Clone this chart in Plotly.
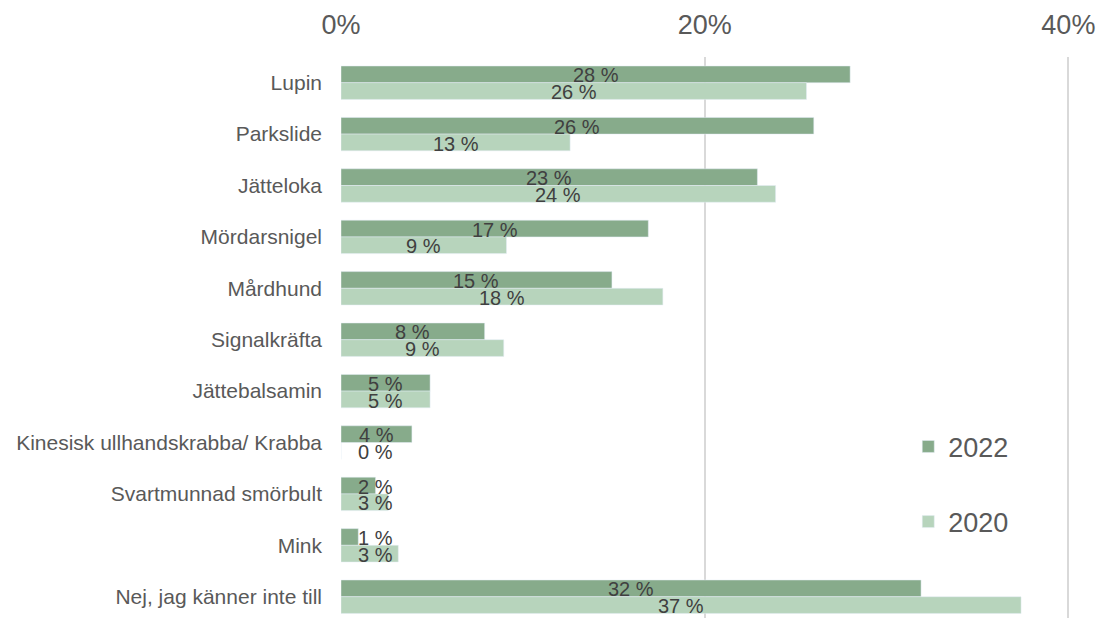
import plotly.graph_objects as go

categories = ['Lupin', 'Parkslide', 'Jätteloka', 'Mördarsnigel', 'Mårdhund', 'Signalkräfta',
              'Jättebalsamin', 'Kinesisk ullhandskrabba/ Krabba', 'Svartmunnad smörbult',
              'Mink', 'Nej, jag känner inte till']
values_2022 = [28.0, 26.0, 22.9, 16.9, 14.9, 7.9, 4.9, 3.9, 1.9, 0.95, 31.9]
values_2020 = [25.6, 12.6, 23.9, 9.1, 17.7, 8.95, 4.9, 0.0, 2.6, 3.15, 37.4]
tick_values = [0, 20, 40]
tick_labels = ['0%', '20%', '40%']

dark_green = '#87ab8b'
light_green = '#b7d4bc'
font_family = 'Liberation Sans, Arial, sans-serif'

fig = go.Figure()
fig.add_trace(go.Bar(
    y=categories, x=values_2022, name='2022', orientation='h',
    marker=dict(color=dark_green), legend='legend', showlegend=True
))
fig.add_trace(go.Bar(
    y=categories, x=values_2020, name='2020', orientation='h',
    marker=dict(color=light_green), legend='legend2', showlegend=True
))

# value labels, centred on each bar but kept clear of the axis for tiny bars
annotations = []
for series, shift in [(values_2022, 8.4), (values_2020, -8.4)]:
    for cat, v in zip(categories, series):
        annotations.append(dict(
            x=max(v / 2, 1.87), y=cat, xref='x', yref='y',
            text=f'{v:.0f} %', showarrow=False, yshift=shift - 1,
            font=dict(size=20, color='#404040', family=font_family)
        ))

fig.update_layout(
    width=1097, height=618,
    margin=dict(l=341, r=25, t=57, b=0),
    barmode='group', bargap=0.35, bargroupgap=0,
    plot_bgcolor='white', paper_bgcolor='white',
    font=dict(family=font_family, color='#595959'),
    annotations=annotations,
    showlegend=True,
    xaxis=dict(
        side='top', range=[0, 40.2], tickvals=tick_values, ticktext=tick_labels,
        showgrid=True, gridcolor='#d9d9d9', gridwidth=2,
        zeroline=False, showline=False, ticks='',
        ticklabelstandoff=17, ticklabeloverflow='allow',
        tickfont=dict(size=27, color='#595959')
    ),
    yaxis=dict(
        type='category', range=[10.414, -0.5],
        showgrid=False, zeroline=False, showline=False, ticks='',
        ticklabelstandoff=18,
        tickfont=dict(size=21, color='#595959')
    ),
    legend=dict(
        x=0.776, y=0.305, xanchor='left', yanchor='middle',
        font=dict(size=27, color='#595959'), bgcolor='rgba(0,0,0,0)'
    ),
    legend2=dict(
        x=0.776, y=0.171, xanchor='left', yanchor='middle',
        font=dict(size=27, color='#595959'), bgcolor='rgba(0,0,0,0)'
    ),
)

# drop the page's default body margin so the figure fills the window exactly
fig.write_html('out.html', config={'displayModeBar': False},
               post_script="document.body.style.margin='0';document.body.style.overflow='hidden';")
